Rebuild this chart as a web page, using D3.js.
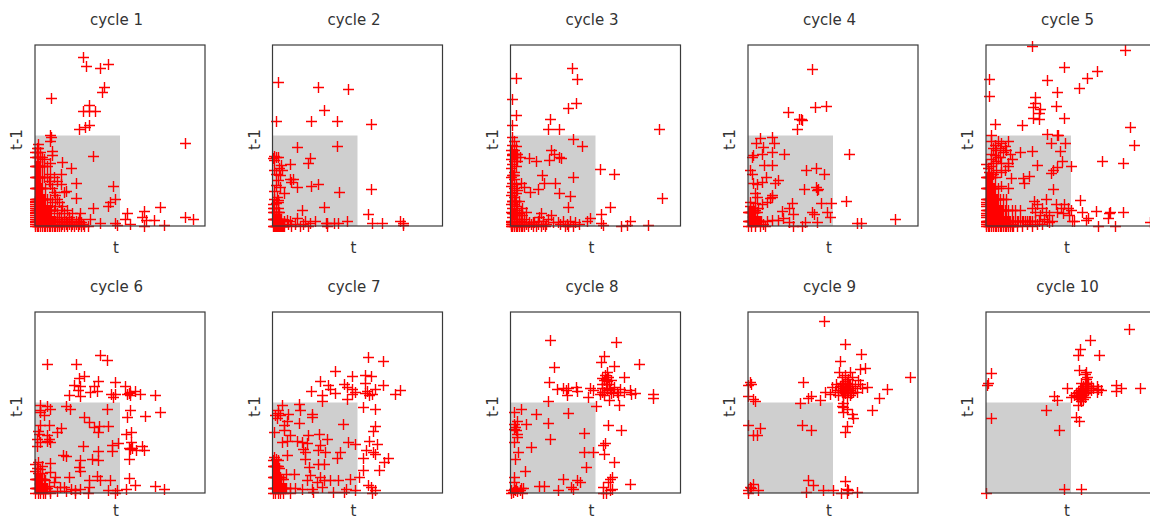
<!DOCTYPE html>
<html>
<head>
<meta charset="utf-8">
<script src="https://cdn.jsdelivr.net/npm/d3@7"></script>
<style>
html, body { margin: 0; padding: 0; background: #fff; overflow: hidden; }
text { font-family: "DejaVu Sans", sans-serif; font-size: 15px; fill: #333; }
</style>
</head>
<body>
<svg id="chart" width="1150" height="520"></svg>
<script>
// every point is [t, t-1], in percent of the axis range
var cycle1 = [[28,93.4],[30,88.4],[38,87.3],[43,89.5],[40.4,76.6],[39.4,74.2],[9.6,70.7],[31.6,66.9],[28,63.7],[31.6,63.7],[35.1,63.7],[31.6,55.8],[29.2,54.9],[26,53.4],[9,50.3],[9.6,49.4],[9,47],[88.4,45.9],[1.8,45.3],[10,41.6],[10,39],[34,38.7],[16,35.2],[21,32],[15.5,29],[24,23.8],[45.7,22],[47,15],[43,11],[44,13.4],[24,15.5],[18.4,19.3],[34,9.8],[54,7.4],[64,8.5],[73.7,10.7],[88.4,4.8],[93,3.9],[70,3.3],[65,3.3],[63,4.8],[75.7,0.5],[64,0],[56,1],[53,4],[48,0.5],[47,1.5],[38.4,1.5],[32.5,4],[26.7,7],[25.7,4],[21.8,7],[19.8,5],
[0,0],[1,0],[2,0],[3,0],[4,0],[5,0],[6,0],[7,0],[8,0],[9,0],[10,0],[11,0],[12,0],[13,0],[14,0],[15,0],[17,0],[19,0],[21,0],[23,0],[25,0],[27,0],[29,0],[31,0],
[0,1],[0,2],[0,4],[0,5],[0,6],[0,7],[0,8],[0,10],[0,11],[0,12],[0,13],[0,14],
[14,1],[16,1],[18,1],[20,1],[22,1],[24,1],[26,1],[28,1],[13,2],[16,2],[19,2],[22,2],[25,2],[27,2],[15,3],[18,3],[21,3],[24,3],[26,3],[13,4],[17,4],[20,4],[14,5],
[0,3],[0.6,3],[1.2,3],[1.8,3],[2.4,3],[3,3],[3.6,3],[4.2,3],[4.8,3],[5.4,3],[6,3],[6.6,3],[7.2,3],[7.8,3],[8.4,3],[9,3],[9.6,3],[10.2,3],[10.8,3],[11.4,3],[12,3],
[0,9],[0.6,9],[1.2,9],[1.8,9],[2.4,9],[3,9],[3.6,9],[4.2,9],[4.8,9],[5.4,9],[6,9],[6.6,9],[7.2,9],[7.8,9],[8.4,9],[9,9],[9.6,9],[11,9],[15,9],[19,9],
[0,15],[0.6,15],[1.2,15],[1.8,15],[2.4,15],[3,15],[3.6,15],[4.2,15],[4.8,15],[5.4,15],[6,15],[7,15],[9,15],[13,15],
[13,7],[17,7],[12,11],[16,11],[10,13],[14,13],[12,17],[11,19],[17,19],
[0,21],[0.6,21],[1.2,21],[1.8,21],[2.4,21],[3,21],[3.6,21],[4.2,21],[6,21],[10,21],
[0,27],[0.6,27],[1.2,27],[1.8,27],[2.4,27],[3,27],[4.2,27],[5.4,27],[7,27],[11,27],
[15,23],[9,23],[8,25],[13,25],[9,29],
[0,33],[0.6,33],[1.2,33],[1.8,33],[2.4,33],[3,33],[4,33],[5,33],[7,33],
[0,38],[1,38],[2,38],[3,38],[4,38],[5,37],[9,35],[0,41],[1,41],[3,41],[1,43],[2,43]];

var cycle2 = [[3,79.6],[26.5,77],[44.7,75.5],[30,63.9],[2,58.2],[22.7,58.2],[37.8,58.2],[57.8,56.5],[14.3,43.6],[37.8,44.4],[22,37.8],[21,35],[10,34.4],[1,38.9],[2,38.3],[0,37.8],[3,38.3],[1,36.5],[5,33.7],[4,31.9],[0.6,31],[5.5,31],[2,29],[4.5,28],[3.5,25.4],[10.4,26],[12,26],[11,24.5],[14.3,21.4],[22.7,22],[26.5,23.2],[39.4,19],[57.8,20.6],[6.5,18],[0.6,19.5],[2,22.7],[4.5,21.7],[2.5,16.2],[3.5,14.4],[2,12.5],[17.6,9],[30,10.7],[56,6.6],[58.8,1.8],[64.3,1.8],[75,2.6],[77,1.8],[76.5,0.5],[44,3],[38.8,1.8],[36,1.5],[32,1.5],[32.3,0],[31.5,1.8],[25,3],[21.8,1.8],[19.2,3],[17.8,1],[14.3,4.2],[13.3,1],[10.4,2.6],[8.4,3.3],[6.5,2.5],[21,0],[16,0],[11,0],[9,1],
[0,0],[0.6,0],[1.2,0],[1.8,0],[2.4,0],[3,0],[3.6,0],[4.2,0],[4.8,0],[5.4,0],[6,0],[7,0],[0,4],[0.6,4],[1.2,4],[1.8,4],[2.4,4],[3,4],[3.6,4],[4.2,4],[5,4],[0,8],[1,8],[2,8],[3,8],[4,8],[0,10],[1,10],[3,10],[0,12],[3,13],[1,15]];

var cycle3 = [[36,87.5],[39.4,81],[3.3,82],[0.8,70],[38.6,68],[34,65],[3,61.3],[23.5,59],[0.8,55.8],[22,53.4],[28.4,53.4],[87.5,53.4],[36.9,47.9],[42,44.4],[23.7,42],[25.7,39.8],[29.8,37.8],[28.6,38.3],[22.7,36.5],[15,36],[10.8,37.8],[5.7,38.3],[52.4,31.3],[61,29],[18.4,28.4],[36.9,27.3],[26.3,24],[19.8,24],[6,24],[7.8,21.7],[15.9,20.4],[11.6,19],[28.8,18],[35,16.6],[89,15.7],[34,10.7],[58.6,10.7],[53,6.4],[70,3],[81,0.7],[65,0],[68.4,0.5],[54.7,0.5],[53,1.5],[46.9,4.2],[45,3],
[1,49],[2,47],[1,45],[3,44],[0,42],[2,42],[4,40],[1,39],[3,38],[0,37],[2,36],[4,36],[1,34],[3,33],[0,32],[2,30],[0,27],[2,26],[1,24],[3,23],[0,22],[2,21],[4,20],[1,19],[3,18],[0,17],[2,16],[1,14],[3,14],[5,14],[0,12],[2,12],[4,11],[7,10],[1,10],[3,9],[6,8],[9,8],[0,8],[2,7],[4,6],[7,6],[1,5],[3,4],[5,4],[8,4],
[0,3],[2,3],[4,2],[6,3],[9,2],[11,2],[14,2],[17,5],[18,7],[16,3],[19,3],[22,4],[24,6],[21,1],[25,2],[29,1],[31,3],[33,1],[35,3],[37,0],[38,2],[40,1],[32,0],[28,2],[34,0],[0,0],[1,0],[2,0],[3,0],[4,0],[5,0],[6,0],[7,0],[8,0],[10,0],[12,1],[13,0],[15,0],[18,0],[20,0],[0,1],[1,1],[3,1],[5,1],[7,1],[9,1],[13,2],[16,1],[19,1],[0,2],[1,2],
[0.6,14],[1.8,14],[2.4,14],[0.6,7],[1.4,7],[2.6,7],[3.4,7],[5,7],[0.6,28],[1.2,28],[1.8,28],[0.6,40],[1.4,40],[2.6,40],[3.4,40]];

var cycle4 = [[37.6,87],[39.4,65.7],[45.7,66.3],[23.7,63],[31.2,59.3],[32,58.6],[30.2,59],[29,53.4],[14,49.4],[7.3,48.4],[15.5,45.7],[4.5,45.7],[9,43.8],[14,41],[8,40],[21.4,39.6],[3,39],[2.5,38.3],[59.4,40],[9.4,33.7],[14,33.7],[34,31],[40,32.2],[44.7,29],[1.2,31],[2.2,29],[10.6,27],[17.8,25.4],[15.9,24],[8,24.5],[3,24],[5,23.2],[33,20.6],[40,21.4],[41.4,20.4],[40.4,20],[14,17],[13,15.3],[14.3,15.8],[4,18],[5,16.2],[1.2,13.4],[4,12.5],[8,12],[11,13],[25.7,12.5],[43,12.5],[49,12.5],[57.6,14],[24,9.8],[19.8,8.5],[26.7,6.6],[37.8,8],[38.6,6.6],[46.3,7.5],[48.2,4.8],[40.4,2.4],[33.5,2.4],[31.6,0.2],[26.7,0],[24,2.4],[20.8,4.2],[17.8,3.3],[14,3.3],[64,1.8],[66.5,1.8],[86.7,4],[11,3],[9,1],[7,0],[10,0],
[0,3],[0.6,3],[1.2,3],[1.8,3],[2.4,3],[3,3],[3.6,3],[4.2,3],[4.8,3],[5.4,3],[6,3],[6.6,3],[7.2,3],[7.8,3],[0,8],[0.6,8],[1.2,8],[1.8,8],[2.4,8],[3,8],[3.6,8],[4.2,8],[5,8],[0,0],[2,0],[4,0],[1,11],[4,9],[3,10],[6,10]];

var cycle5 = [[27.3,99.4],[82,97.4],[45.7,87.7],[65.5,85.5],[59.4,82],[54.9,76.2],[1.8,81],[35.9,80.5],[42,73.9],[1.8,72],[28.8,71.3],[28.8,68],[41.2,66.5],[27.5,65.6],[32,64.6],[27.5,59.9],[31.2,62.2],[31.2,59],[45.7,59.9],[5.3,56.4],[21,55.8],[84.9,54.9],[3,50.3],[35.9,50.8],[41.6,50.3],[42.6,50.3],[87.3,45],[46.5,45.7],[38.2,45.7],[20,41],[27.3,41.6],[43.7,41.6],[44.5,35.7],[29.8,33.7],[50,33],[68.4,35.9],[80.4,34.6],[41.6,32.8],[39.6,31],[38,29.5],[14.7,26.7],[25.5,27.6],[21.6,26.3],[22.4,24],[39.6,20.4],[35,15],[55.3,14.2],[56.5,8],[64.5,8.5],[72.4,7],[73,8],[80.4,7.6],[72,4.2],[60.2,4.2],[58.8,3.3],[50.8,3],[52,3],[66,0],[76,0],[96.5,2.4],
[28,14],[30,12],[33,10],[29,8],[32,6],[35,8],[27,10],[31,3],[34,4],[37,2],[41,12],[44,10],[46,12],[48,10],[50,9],[42,8],[45,7],[49,6],[37,6],[39,3],
[3,47],[5,45],[7,47],[9,46],[11,44],[13,47],[4,43],[6,42],[8,43],[10,41],[12,42],[14,40],[3,40],[5,39],[7,38],[13,35],[15,37],[11,31],[13,33],[3,37],[4,35],[6,36],[8,38],[9,35],
[0,3],[0.6,3],[1.2,3],[1.8,3],[2.4,3],[3,3],[3.6,3],[4.2,3],[4.8,3],[5.4,3],[6,3],[6.6,3],[7.2,3],[7.8,3],[8.4,3],[9,3],[9.6,3],[10.2,3],[10.8,3],[11.4,3],[12,3],[12.6,3],[13.2,3],[13.8,3],[14.4,3],[15,3],[16,3],[17,3],[18,3],[19,3],[20,3],[21,3],[22,3],[23,3],[24,3],[25,3],[26,3],[27,3],
[0,9],[0.6,9],[1.2,9],[1.8,9],[2.4,9],[3,9],[3.6,9],[4.2,9],[4.8,9],[5.4,9],[6,9],[6.6,9],[7.2,9],[7.8,9],[8.4,9],[9,9],[9.6,9],[10.2,9],[11,9],[12,9],[13,9],[15,9],[17,9],[20,9],
[0,15],[0.6,15],[1.2,15],[1.8,15],[2.4,15],[3,15],[3.6,15],[4.2,15],[4.8,15],[5.4,15],[6,15],[6.6,15],[7.2,15],[8,15],[10,15],[12,15],
[0,21],[0.6,21],[1.2,21],[1.8,21],[2.4,21],[3,21],[3.6,21],[4.2,21],[4.8,21],[5.4,21],[7,21],[9,22],[13,21],
[0,27],[0.6,27],[1.2,27],[1.8,27],[2.4,27],[3,27],[3.6,27],[5,27],[9,30],
[0,34],[1,32],[2,30],[3,33],[4,29],[6,31],
[0,1],[0,2],[0,5],[0,6],[0,7],[0,11],[0,12],[0,13],
[7,2],[12,1],[15,1],[18,0],[21,0],[24,1],[27,0],[30,1],[33,1],[29,3],[36,3],[0,0],[1,0],[2,0],[3,0],[4,0],[5,0],[6,0],[7,0],[8,0],[9,0],[10,0],[11,0],[12,0],[13,0],[14,0],[15,0],[16,0]];

var cycle6 = [[38.4,76],[42.4,73.7],[7.3,71],[24,71],[28.6,64.6],[26,63.7],[47.3,61.3],[36.9,61.9],[23,59.5],[26.3,59],[34.9,59],[53,59],[25,57],[32.5,55.8],[36.5,56.4],[59,56.4],[62,54.9],[70.8,54],[19.8,54],[26.7,53.4],[44.7,54.5],[47.3,54.5],[45.7,53],[55,55.2],[54,54.5],[56,54],[56,56],[73.3,44.8],[64.9,42.5],[55.7,45.7],[54,42],[42.4,46.6],[18.4,48],[20.4,46.6],[2.7,48.4],[7,48],[9,46.2],[2.7,46],[5,42.9],[3,44.5],[29,42],[32,39],[34.5,36.5],[37.5,37],[42.7,37],[37,33.7],[8,37.4],[3,37.4],[15.3,36],[13,33.7],[2.2,32.8],[7,31.9],[8,29.7],[8.6,28.2],[7,29],[53.7,32.8],[56.5,33.5],[56.5,28.2],[48.6,27.6],[45,26.3],[28,26],[55,25],[56,24.5],[57,25],[63,25.8],[64.3,24],[59.6,23.6],[45.3,23.2],[36.9,23.2],[16.5,21.2],[18.2,20.4],[55,19],[26.7,18],[33.5,18.6],[36.9,18],[9,16.6],[25.7,14.4],[26.7,12.2],[55,8.5],[58.6,4.6],[70.8,3.9],[76,2.4],[53.7,2.4],[48.2,1.5],[47.3,0],[43,1.5],[44.3,7],[38.4,7],[36.5,9.2],[31.6,7],[32,3.3],[31,0],[26.7,2.4],[23.7,1.5],[23.7,0],[19.8,8.8],[12,8.8],[11,6],[14.9,3.3],[16.8,3.3],[9,11.6],
[1,30],[3,28],[1,26],[2,34],[0,16],[2,17],[4,15],[1,14],[3,13],[0,12],[2,11],[4,11],[0,8],[0.6,8],[1.2,8],[1.8,8],[2.4,8],[3,8],[3.6,8],[4.2,8],[5,8],[6,7],[0,3],[0.6,3],[1.2,3],[1.8,3],[2.4,3],[3,3],[3.6,3],[4.2,3],[4.8,3],[5.4,3],[6,3],[6.6,3],[7.2,3],[8,4],[9,1],[0,0],[1.5,0],[3,0],[4.5,0],[6,0],[9,0],[18,1],[21,2],[13,1]];

var cycle7 = [[55.9,75.3],[64.9,72.7],[36.9,67.2],[46.7,64.5],[54.5,65],[57.8,64.6],[28,61.9],[54.5,60.8],[64.9,59.7],[32.9,59.5],[41.8,60],[43.7,58.6],[34,57.6],[22.5,56.5],[36.5,55.2],[46.7,57.6],[48.6,55.8],[46.7,54.5],[55.5,56.4],[56.5,54],[58.4,54.9],[60,57.6],[54.5,55],[75,56.7],[72,54.9],[29.4,54],[44,52],[29.4,50.8],[53.5,47.5],[60,46.6],[5.5,48.4],[15.3,49],[16.3,45.7],[3.5,45.7],[3,44],[1.5,43],[4.5,42.9],[2.5,41.6],[9.4,43.5],[23.5,43.8],[23.5,42],[8.4,40],[15.3,38.7],[6.5,37.4],[41.4,38],[60,37],[59.4,34.3],[0.6,33.7],[6.5,34.6],[10.4,31.9],[21,31.9],[27.5,32.8],[5.5,28.2],[8.4,29],[14.3,29],[17.3,28],[20.2,27.6],[32,30],[28,26.7],[44.7,28.2],[48.6,26.9],[56.5,29],[61.4,26.9],[18.2,24.5],[19.2,22.7],[27,23.6],[31,22.7],[55,24],[39.8,22.7],[59.4,22.7],[60.4,21.4],[8.4,20.8],[38.2,19.5],[53.5,19.5],[19.2,19],[68,19.5],[65.7,17],[27,16.2],[30.4,16.2],[21.2,14.4],[62.4,12.9],[53.5,12.9],[12.5,10.7],[8,10.7],[22,9.8],[28,8.8],[30.4,7],[38.8,7],[45.7,8],[50.6,8.8],[20,7],[26,6],[34,7],[35.5,0.5],[24,0.5],[29,3.3],[23,2.4],[17.3,2.4],[43,2.4],[42,0.5],[48.6,1.5],[56,4.2],[58,3.3],[60.4,1.8],[58.8,0],[13,3],
[0,3],[0.6,3],[1.2,3],[1.8,3],[2.4,3],[3,3],[3.6,3],[4.2,3],[4.8,3],[5.4,3],[6,3],[6.6,3],[7.2,3],[8,3],[10,3],
[0,9],[0.6,9],[1.2,9],[1.8,9],[2.4,9],[3,9],[3.6,9],[4.2,9],[5,8],[6,8],
[0,15],[0.6,15],[1.2,15],[1.8,15],[2.4,15],[3,15],[4,14],
[1,20],[2,19],[0,18],[3,18],[0,0],[1.5,0],[3,0],[4.5,0],[6,0],[10,0]];

var cycle8 = [[23.5,84.3],[62,83.6],[55,75.5],[53,72.4],[75.5,71],[61,70.3],[25.5,69.4],[66.5,64],[56.7,66.8],[53.7,63.7],[55.7,65],[57.6,64],[55,62.2],[57,62],[59,62.6],[56,60.4],[22.7,61.3],[27.6,57.3],[31,58.2],[32.7,56.7],[34,58.2],[38.6,58.6],[39.4,56.4],[33.5,54],[46.5,58.2],[48.8,57],[45.3,53],[53.7,55.8],[52.4,54.5],[55,54],[56.7,56.7],[58.6,57.6],[60.6,58.6],[62.5,55.8],[63.5,54],[64.5,57.6],[66.9,55.8],[70.4,56.7],[70.8,54.9],[73,55.3],[83.7,54.9],[83.7,52.7],[57.8,51.2],[64,48.4],[50.4,48],[22,50.6],[6,46.6],[1.8,44.8],[15,43.5],[34,44],[22,38.9],[9,38.3],[3.7,40],[1.8,38.3],[2.7,36.5],[2,35.6],[3.3,34.6],[4,32.8],[57.6,37.8],[65,35],[43,33.3],[23.5,30],[1.8,28.2],[3.7,31],[55.7,27.6],[54.3,26.3],[12,25.4],[4.7,22.7],[2.7,19],[43.3,22.7],[48.4,22.7],[55,21.7],[61,17],[44.5,14.4],[8.8,12.2],[1.8,8.8],[1.8,6],[58.6,8],[59.6,8.8],[57.6,6],[30.8,8],[41,6],[39.4,7.4],[70,4.8],[17,4],[19.8,4],[35.5,3.3],[37,2.2],[27.8,1.5],[54.7,3.3],[59.6,2.4],[58.6,1.5],[54.3,0],[56,0],[7.6,2.8],[5.7,1.5],[6.5,0],[2.7,1.8],[0,1.5],[1.4,0.5],[0,0],[3,3],[6,3],[2,2],[4,1],[54,60],[56,63],[58,60],[54,58],[57,58],[55,56],[59,55],[60,56]];

var cycle9 = [[44.7,94.8],[57,82.5],[66.5,76.8],[54,72.9],[65.9,68.7],[68.8,69],[53.5,66.9],[95.5,63.9],[32.5,61.3],[1.2,61.3],[0.2,59.5],[1.8,60],[0.2,53.4],[3,52],[4,51],[82,57.5],[76.9,52.5],[72.7,45.7],[37,53.4],[35.5,52.5],[42.4,51.6],[30.6,49.9],[45.3,55.8],[49.2,58.6],[48,54.9],[66.9,58.2],[69.8,58.6],[65.9,60.4],[64.9,62.6],[60,66.9],[55,64],[57,65],[59,63],[61,64],[52,60],[53,57],[54,59],[55,61],[55,56],[56,58],[56,54],[57,60],[57,57],[57,55],[58,61],[58,59],[58,56],[58,53],[59,58],[59,56],[60,60],[60,57],[60,54],[61,58],[62,56],[63,59],[64,56],[51,56],[53,54],[56,50],[55,48],[56,47.5],[58,46.6],[56,44.8],[61,43.8],[61.6,41.4],[58.4,37],[57,33.7],[0.2,37.8],[7,35.9],[3,31.9],[5,31.9],[31.6,37.8],[37,35],[35,7],[38,4.2],[34,0.4],[44.3,1.8],[49.8,1.8],[57,6.6],[58,2.4],[59,1.5],[54.7,0.2],[58,0],[64.3,0.5],[3,5],[1.2,3.3],[6,1.8],[0.2,1.5],[0,0],[2,2.5],[54.5,57],[55.5,59],[56.5,56],[57.5,58],[58.5,57],[59.5,60],[60.5,55],[57,62],[56,60]];

var cycle10 = [[84,90.8],[61.4,84.5],[55,79.7],[54.3,76],[66.5,76],[2.7,66.3],[0.4,59.5],[1,60.5],[54.7,68],[58,66],[59.6,64],[59,67],[47.8,58.2],[66,57.6],[67.5,56.7],[76.3,59.5],[76.3,56.4],[79.4,58.2],[90.8,58.2],[40.2,53.8],[42,51.2],[35,45.7],[2.7,41.6],[54.3,48.4],[52.7,42],[54.5,39.8],[42.7,35],[45.7,2.4],[56,2.4],[0,0],
[52,54],[53,55],[54,53],[54,56],[55,52],[55,54],[55,57],[56,51],[56,53],[56,55],[56,58],[57,52],[57,54],[57,56],[57,59],[58,53],[58,55],[58,57],[58,60],[59,56],[59,58],[59,61],[60,57],[60,59],[62,57],[63,58],[65,59],[50,53],[59,63],[60,61],[62,59],[56,61],[65,56],[53.5,53.5],[54.5,55],[55.5,53],[56.5,54],[57.5,55],[58.5,56],[59.5,59],[56.5,57]];

var cycles = [cycle1, cycle2, cycle3, cycle4, cycle5, cycle6, cycle7, cycle8, cycle9, cycle10];
var titles = ["cycle 1", "cycle 2", "cycle 3", "cycle 4", "cycle 5", "cycle 6", "cycle 7", "cycle 8", "cycle 9", "cycle 10"];
var domainMax = 100;
var shadeMax = 50;

var panelW = 170, panelH = 181;
var panelX = [35, 272.5, 510.5, 748, 986];
var panelY = [45, 312];
var arm = 5.5;

var x = d3.scaleLinear().domain([0, domainMax]).range([0, panelW]);
var y = d3.scaleLinear().domain([0, domainMax]).range([panelH, 0]);
var svg = d3.select("#chart");

cycles.forEach(function (points, i) {
  var px = panelX[i % 5], py = panelY[Math.floor(i / 5)];
  var g = svg.append("g").attr("transform", "translate(" + px + "," + py + ")");

  g.append("rect")
    .attr("x", x(0)).attr("y", y(shadeMax))
    .attr("width", x(shadeMax) - x(0)).attr("height", y(0) - y(shadeMax))
    .attr("fill", "#cfcfcf");

  // a hair over 1px: a crisp 1px red line lost its colour in the returned picture
  var marks = g.append("g")
    .attr("fill", "none").attr("stroke", "#ff0000").attr("stroke-width", 1.4);
  marks.selectAll("path").data(points).enter().append("path")
    .attr("d", function (d) {
      var cx = Math.round(px + x(d[0])) - px + 0.5;
      var cy = Math.round(py + y(d[1])) - py + 0.5;
      return "M" + (cx - arm) + "," + cy + "H" + (cx + arm) + "M" + cx + "," + (cy - arm) + "V" + (cy + arm);
    });

  g.append("rect")
    .attr("x", x(0)).attr("y", y(domainMax))
    .attr("width", panelW).attr("height", panelH)
    .attr("fill", "none").attr("stroke", "#3a3a3a").attr("stroke-width", 1.2);

  g.append("text").attr("x", panelW / 2 - 3.5).attr("y", -20.5).attr("text-anchor", "middle").text(titles[i]);
  // the bottom row label has to stay inside the 520px picture
  g.append("text").attr("x", panelW / 2 - 4).attr("y", Math.min(panelH + 26.5, 516.4 - py)).attr("text-anchor", "middle").text("t");
  g.append("text")
    .attr("transform", "translate(-13," + (panelH / 2 + 4) + ") rotate(-90)")
    .attr("text-anchor", "middle").text("t-1");
});
</script>
</body>
</html>
